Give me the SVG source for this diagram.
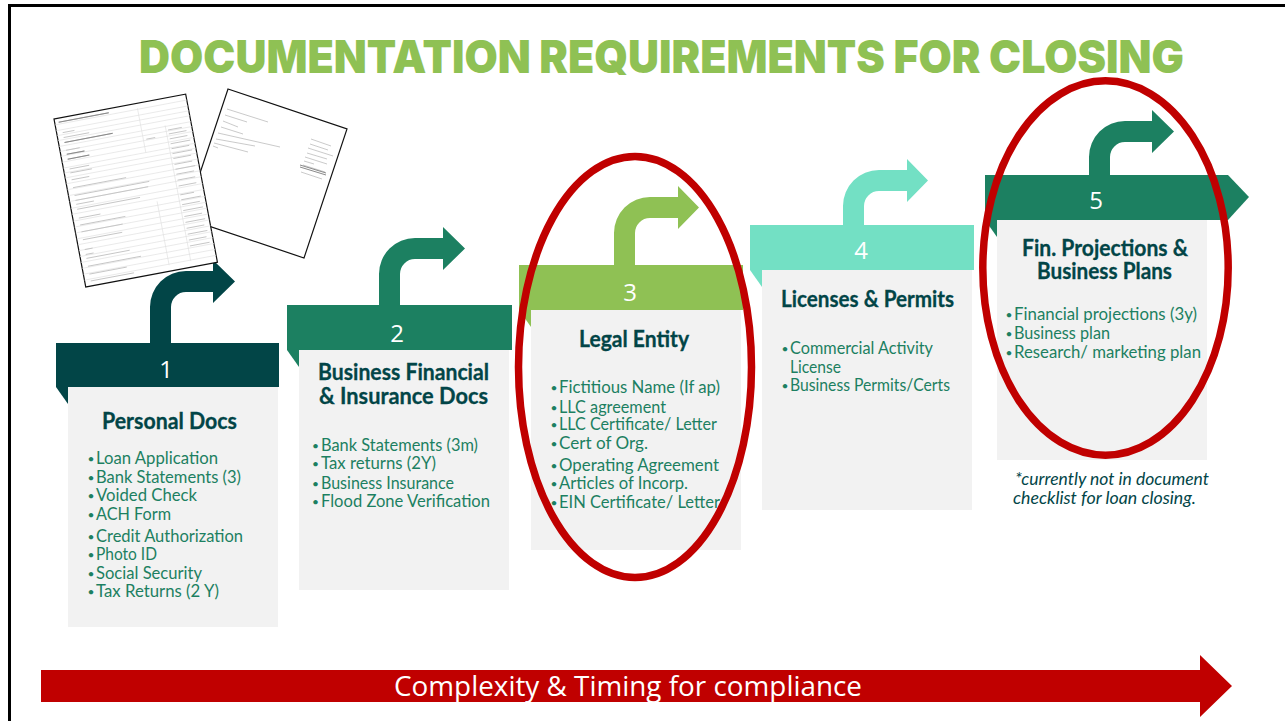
<svg xmlns="http://www.w3.org/2000/svg" width="1285" height="721" viewBox="0 0 1285 721">
<style>
text{font-family:"Lato","Liberation Sans",sans-serif}
.t{font-size:22.5px;font-weight:700;fill:#024547;stroke:#024547;stroke-width:.3;text-anchor:start}
.i{font-size:17px;fill:#1c8061}
.b{font-size:12px;fill:#1c8061}
.n{font-size:24px;fill:#fff;text-anchor:middle;font-family:"Open Sans","Liberation Sans",sans-serif}
.note{font-size:16.5px;font-style:italic;fill:#024547}
.panel{fill:#f2f2f2}
.dark{fill:#024547}.green{fill:#1c8061}.lime{fill:#8fc154}.aqua{fill:#73e0c4}
.ring{fill:none;stroke:#c00000;stroke-width:7.5}
.grid{fill:none;stroke:#dedede;stroke-width:.6}
.ink{fill:none;stroke:#c4c4c4;stroke-width:.9}
.ink2{fill:none;stroke:#8a8a8a;stroke-width:1}
.page{fill:#fff;stroke:#111;stroke-width:1.2}
</style>
<rect id="frame" x="9.5" y="5.5" width="1290" height="730" fill="#fff" stroke="#000" stroke-width="3"/>
<text id="title" x="139" y="73" font-size="45" font-weight="900" fill="#8fc154" style="font-family:Inter,'Liberation Sans',sans-serif" textLength="1045" lengthAdjust="spacingAndGlyphs">DOCUMENTATION REQUIREMENTS FOR CLOSING</text>

<g id="connectors">
<path class="dark" d="M150,343V307A36,36 0 0 1 186,271H213V260L235,281.500L213,303V292H186A15,15 0 0 0 171,307V343Z"/>
<path class="green" d="M379,305V274A36,36 0 0 1 415,238H443V227L465,248.500L443,270V259H415A15,15 0 0 0 400,274V305Z"/>
<path class="lime" d="M614,265V233A36,36 0 0 1 650,197H678V186L699,207.500L678,229V218H650A15,15 0 0 0 635,233V265Z"/>
<path class="aqua" d="M843,225V206A36,36 0 0 1 879,170H907V159L928,180.500L907,202V191H879A15,15 0 0 0 864,206V225Z"/>
<path class="green" d="M1089,175V157A36,36 0 0 1 1125,121H1152V110L1174,131.500L1152,153V142H1125A15,15 0 0 0 1110,157V175Z"/>
</g>

<g id="doc-2">
<polygon class="page" points="228,89 347,129 304,258 185,218"/>
<path class="ink" d="M227,109L268,122M225,115L247,122M223,121L238,127M221,127L243,134M218,133L280,147M216,139L255,146M214,143L248,152M213,146L218,148M311,139L331,146M310,144L328,150M308,148L333,156M307,153L327,159M305,157L327,164M304,161L314,164M303,165L325,172M301,172L322,179"/>
<path class="ink2" d="M300,165L326,173M300,167L326,175"/>
</g>
<g id="doc-1" transform="translate(54,119) rotate(-10.700)">
<rect class="page" width="134" height="171"/>
<path class="grid" d="M0,6H134M0,12H134M0,17H134M0,22H134M0,28H134M0,33H134M0,38H134M0,44H134M0,50H134M0,55H134M0,60H134M0,66H134M0,72H134M0,78H134M0,84H134M0,91H134M0,97H134M0,104H134M0,110H134M0,116H134M0,122H134M0,128H134M0,134H134M0,140H134M0,146H134M0,152H134M0,158H134M0,164H134M84,5V50M108,27V165M86,100V165"/>
<path class="ink" d="M4,4H55M6,15H18M6,20H32M6,25H55M6,33H20M6,37H24M6,42H28M6,52H26M6,56H28M6,63H24M6,71H60M6,79H82M6,84H80M6,88H24M6,93H70M6,102H28M6,109H52M6,116H48M6,124H46M6,134H14M6,139H14M6,143H50M6,151H60M6,159H44M6,166H50M87,37H96M110,32H124M110,36H128M110,41H128M110,46H130M110,51H128M110,56H130M110,61H128M110,67H128M110,72H130M110,77H128M110,83H128M110,89H128M110,98H124M110,103H130M110,108H128M110,114H130M110,120H128M110,126H130M110,132H128M110,138H130M110,144H128M110,150H130"/>
<path class="ink2" d="M4,4H55M6,25H55M6,37H24M6,42H28"/>
</g>

<g id="node-1">
<rect class="dark" x="56" y="343" width="223" height="44"/>
<polygon class="dark" points="56,387 68,387 68,404"/>
<rect class="panel" x="68" y="387" width="210" height="240"/>
<text class="n" x="166" y="378">1</text>
<text class="t" x="102" y="429" textLength="135" lengthAdjust="spacingAndGlyphs">Personal Docs</text>
<text class="b" x="87.500" y="463">•</text><text class="i" x="96" y="464" textLength="122" lengthAdjust="spacingAndGlyphs">Loan Application</text>
<text class="b" x="87.500" y="482">•</text><text class="i" x="96" y="483" textLength="145" lengthAdjust="spacingAndGlyphs">Bank Statements (3)</text>
<text class="b" x="87.500" y="500">•</text><text class="i" x="96" y="501" textLength="101" lengthAdjust="spacingAndGlyphs">Voided Check</text>
<text class="b" x="87.500" y="519">•</text><text class="i" x="96" y="520" textLength="75" lengthAdjust="spacingAndGlyphs">ACH Form</text>
<text class="b" x="87.500" y="541">•</text><text class="i" x="96" y="542" textLength="147" lengthAdjust="spacingAndGlyphs">Credit Authorization</text>
<text class="b" x="87.500" y="559">•</text><text class="i" x="96" y="560" textLength="61" lengthAdjust="spacingAndGlyphs">Photo ID</text>
<text class="b" x="87.500" y="578">•</text><text class="i" x="96" y="579" textLength="106" lengthAdjust="spacingAndGlyphs">Social Security</text>
<text class="b" x="87.500" y="596">•</text><text class="i" x="96" y="597" textLength="123" lengthAdjust="spacingAndGlyphs">Tax Returns (2 Y)</text>
</g>

<g id="node-2">
<rect class="green" x="287" y="305" width="225" height="45"/>
<polygon class="green" points="287,350 299,350 299,367"/>
<rect class="panel" x="299" y="350" width="210" height="240"/>
<text class="n" x="397" y="342">2</text>
<text class="t" x="318" y="380" textLength="171" lengthAdjust="spacingAndGlyphs">Business Financial</text>
<text class="t" x="319" y="404" textLength="169" lengthAdjust="spacingAndGlyphs">&amp; Insurance Docs</text>
<text class="b" x="312" y="450">•</text><text class="i" x="321" y="451" textLength="157" lengthAdjust="spacingAndGlyphs">Bank Statements (3m)</text>
<text class="b" x="312" y="468">•</text><text class="i" x="321" y="469" textLength="115" lengthAdjust="spacingAndGlyphs">Tax returns (2Y)</text>
<text class="b" x="312" y="488">•</text><text class="i" x="321" y="489" textLength="133" lengthAdjust="spacingAndGlyphs">Business Insurance</text>
<text class="b" x="312" y="506">•</text><text class="i" x="321" y="507" textLength="169" lengthAdjust="spacingAndGlyphs">Flood Zone Verification</text>
</g>

<g id="node-3">
<rect class="lime" x="519" y="265" width="224" height="45"/>
<polygon class="lime" points="519,310 531,310 531,327"/>
<rect class="panel" x="531" y="310" width="210" height="240"/>
<text class="n" x="630" y="301">3</text>
<text class="t" x="579" y="347" textLength="110" lengthAdjust="spacingAndGlyphs">Legal Entity</text>
<text class="b" x="550.500" y="392">•</text><text class="i" x="559" y="393" textLength="161" lengthAdjust="spacingAndGlyphs">Fictitious Name (If ap)</text>
<text class="b" x="550.500" y="412">•</text><text class="i" x="559" y="413" textLength="107" lengthAdjust="spacingAndGlyphs">LLC agreement</text>
<text class="b" x="550.500" y="429">•</text><text class="i" x="559" y="430" textLength="158" lengthAdjust="spacingAndGlyphs">LLC Certificate/ Letter</text>
<text class="b" x="550.500" y="448">•</text><text class="i" x="559" y="449" textLength="89" lengthAdjust="spacingAndGlyphs">Cert of Org.</text>
<text class="b" x="550.500" y="470">•</text><text class="i" x="559" y="471" textLength="160" lengthAdjust="spacingAndGlyphs">Operating Agreement</text>
<text class="b" x="550.500" y="488">•</text><text class="i" x="559" y="489" textLength="129" lengthAdjust="spacingAndGlyphs">Articles of Incorp.</text>
<text class="b" x="550.500" y="507">•</text><text class="i" x="559" y="508" textLength="161" lengthAdjust="spacingAndGlyphs">EIN Certificate/ Letter</text>
</g>

<g id="node-4">
<rect class="aqua" x="750" y="225" width="224" height="45"/>
<polygon class="aqua" points="750,270 762,270 762,287"/>
<rect class="panel" x="762" y="270" width="210" height="240"/>
<text class="n" x="861" y="259">4</text>
<text class="t" x="781" y="307" textLength="173" lengthAdjust="spacingAndGlyphs">Licenses &amp; Permits</text>
<text class="b" x="781.500" y="353">•</text><text class="i" x="790" y="354" textLength="143" lengthAdjust="spacingAndGlyphs">Commercial Activity</text>
<text class="i" x="790" y="373" textLength="51" lengthAdjust="spacingAndGlyphs">License</text>
<text class="b" x="781.500" y="390">•</text><text class="i" x="790" y="391" textLength="160" lengthAdjust="spacingAndGlyphs">Business Permits/Certs</text>
</g>

<g id="node-5">
<polygon class="green" points="985,175 1228,175 1249,197 1228,220 985,220"/>
<polygon class="green" points="985,220 997,220 997,237"/>
<rect class="panel" x="997" y="220" width="210" height="240"/>
<text class="n" x="1096" y="209">5</text>
<text class="t" x="1022" y="256" textLength="166" lengthAdjust="spacingAndGlyphs">Fin. Projections &amp;</text>
<text class="t" x="1037" y="279" textLength="135" lengthAdjust="spacingAndGlyphs">Business Plans</text>
<text class="b" x="1005.500" y="319">•</text><text class="i" x="1014" y="320" textLength="183" lengthAdjust="spacingAndGlyphs">Financial projections (3y)</text>
<text class="b" x="1005.500" y="338">•</text><text class="i" x="1014" y="339" textLength="96" lengthAdjust="spacingAndGlyphs">Business plan</text>
<text class="b" x="1005.500" y="357">•</text><text class="i" x="1014" y="358" textLength="187" lengthAdjust="spacingAndGlyphs">Research/ marketing plan</text>
<text class="note" x="1015" y="485" textLength="194" lengthAdjust="spacingAndGlyphs">*currently not in document</text>
<text class="note" x="1013" y="504" textLength="183" lengthAdjust="spacingAndGlyphs">checklist for loan closing.</text>
</g>

<ellipse id="ring-3" class="ring" cx="635" cy="367" rx="116.500" ry="210.500"/>
<ellipse id="ring-5" class="ring" cx="1105.500" cy="268" rx="122.700" ry="187.200"/>

<g id="timeline">
<polygon fill="#c00000" points="41,670 1200,670 1200,655 1232,686 1200,717 1200,702 41,702"/>
<text x="394" y="696" font-size="27" fill="#fff" style="font-family:'Open Sans','Liberation Sans',sans-serif" textLength="468" lengthAdjust="spacingAndGlyphs">Complexity &amp; Timing for compliance</text>
</g>
</svg>
